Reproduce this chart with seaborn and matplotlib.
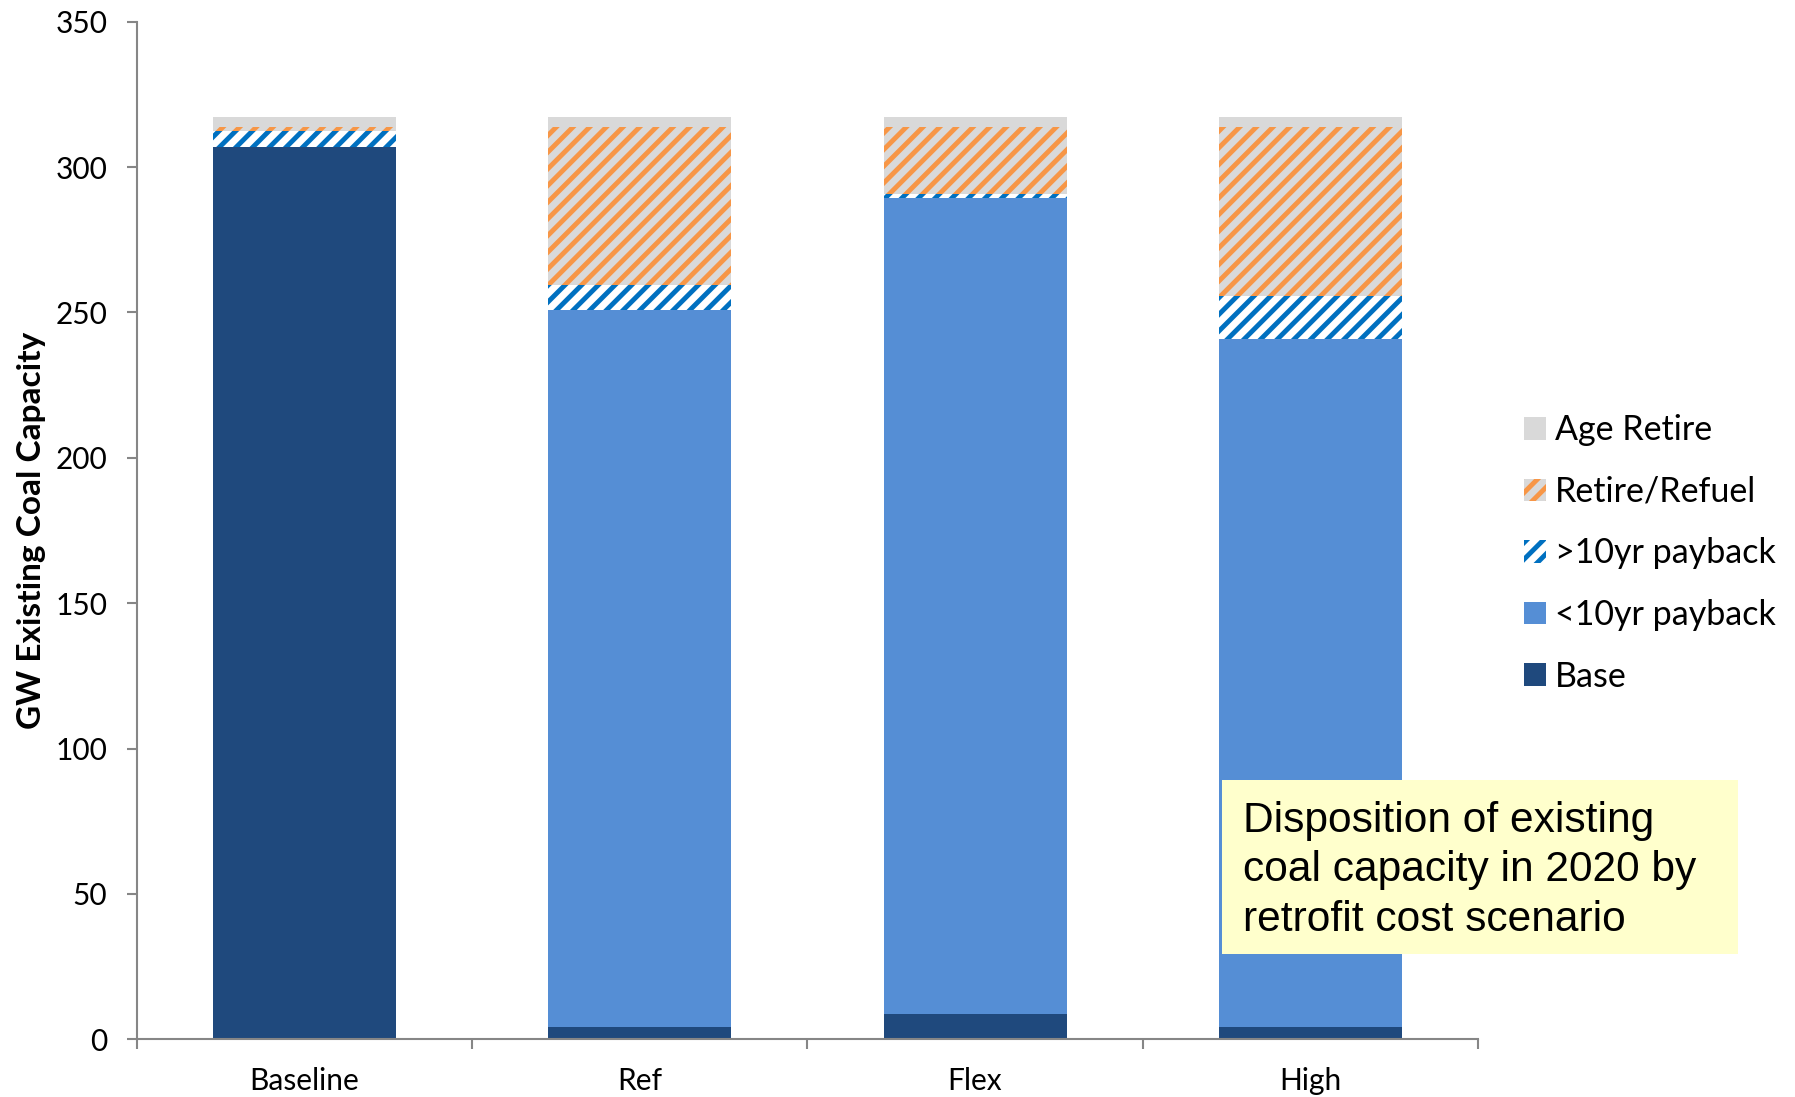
import numpy as np
import matplotlib
matplotlib.use("Agg")
import matplotlib.pyplot as plt
import matplotlib.patches as mpatches
import seaborn as sns

# Retrofit cost scenarios and disposition of existing coal capacity (GW) in 2020
scenarios = ["Baseline", "Ref", "Flex", "High"]
base = [307.0, 4.2, 8.6, 4.2]
payback_under_10yr = [0.0, 246.8, 280.8, 236.5]
payback_over_10yr = [5.3, 8.6, 1.4, 14.9]
retire_refuel = [1.6, 54.2, 23.0, 58.2]
age_retire = [3.4, 3.4, 3.4, 3.4]

series_labels = ["Base", "<10yr payback", ">10yr payback", "Retire/Refuel", "Age Retire"]
y_ticks = [0, 50, 100, 150, 200, 250, 300, 350]
note_text = "Disposition of existing\ncoal capacity in 2020 by\nretrofit cost scenario"

sns.set_theme(style="white")
plt.rcParams["font.family"] = ["Lato", "DejaVu Sans"]
plt.rcParams["hatch.linewidth"] = 3.5
plt.rcParams["text.color"] = "black"

# (face colour, hatch pattern, hatch colour) per series, bottom to top
styles = [
    ("#1F497D", None, "#1F497D"),
    ("#558ED5", None, "#558ED5"),
    ("#FFFFFF", "//", "#0070C0"),
    ("#D9D9D9", "//", "#F79646"),
    ("#D9D9D9", None, "#D9D9D9"),
]

fig = plt.figure(figsize=(17.95, 10.97), dpi=100)
ax = fig.add_axes([0.0762, 0.0526, 0.8234 - 0.0762, 0.9802 - 0.0526])

stack = np.array([base, payback_under_10yr, payback_over_10yr, retire_refuel, age_retire])
cumulative = np.cumsum(stack, axis=0)

# Draw cumulative totals from the top layer down so each lower layer overlays the one above
for i in reversed(range(len(series_labels))):
    face, hatch, hcolor = styles[i]
    sns.barplot(x=scenarios, y=cumulative[i], order=scenarios, color=face,
                saturation=1, width=0.546, errorbar=None, hatch=hatch,
                edgecolor=hcolor, linewidth=0, ax=ax)

ax.set_xlim(-0.5, 3.5)
ax.set_ylim(0, 350)
ax.set_yticks(y_ticks)
ax.set_xlabel("")
ax.set_ylabel("GW Existing Coal Capacity", fontsize=24, fontweight="bold",
              color="black", labelpad=7)

for side in ("top", "right"):
    ax.spines[side].set_visible(False)
for side in ("left", "bottom"):
    ax.spines[side].set_color("#868686")
    ax.spines[side].set_linewidth(1.5)

ax.set_xticks(np.arange(-0.5, 4.0, 1.0), minor=True)
ax.tick_params(axis="x", which="major", bottom=True, length=0, pad=20,
               labelsize=21.5, labelcolor="black")
ax.tick_params(axis="x", which="minor", bottom=True, length=7.2, width=1.5,
               color="#868686", direction="out")
ax.tick_params(axis="y", which="major", left=True, length=7.2, width=1.5,
               color="#868686", direction="out", pad=14, labelsize=21.5,
               labelcolor="black")

# Legend, top series first
handles = []
for i in reversed(range(len(series_labels))):
    face, hatch, hcolor = styles[i]
    handles.append(mpatches.Patch(facecolor=face, edgecolor=hcolor, hatch=hatch,
                                  linewidth=0, label=series_labels[i]))
fig.legend(handles=handles, loc="center left", bbox_to_anchor=(0.849, 0.4955),
           frameon=False, fontsize=24.5, handlelength=0.64, handleheight=0.64,
           handletextpad=0.27, labelspacing=0.87, borderpad=0, borderaxespad=0)

# Annotation box
box = mpatches.Rectangle((1221.7 / 1795, 1 - 954 / 1097), (1738 - 1221.7) / 1795,
                         (954 - 780) / 1097, transform=fig.transFigure,
                         facecolor="#FFFFCC", edgecolor="none", zorder=3)
fig.add_artist(box)
fig.text(1243 / 1795, 1 - 801 / 1097, note_text, ha="left", va="top",
         fontsize=30.6, family=["Liberation Sans", "DejaVu Sans"], color="black",
         linespacing=1.3, zorder=4)

fig.savefig("out.png", dpi=100)
